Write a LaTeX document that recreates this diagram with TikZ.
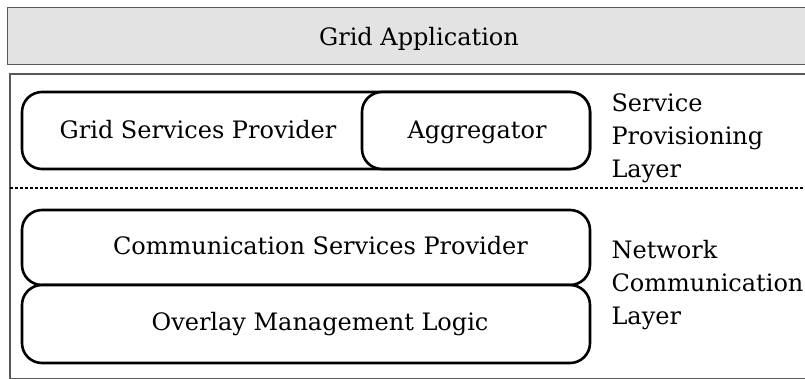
\documentclass[tikz,border=0pt]{standalone}
\usepackage{fontspec}
\setmainfont{DejaVu Serif}
\usepackage{tikz}
\usetikzlibrary{positioning}

\begin{document}
\begin{tikzpicture}[x=1pt, y=-1pt,
  every node/.style={font=\fontsize{24}{33}\selectfont},
  part/.style={draw=black, line width=2.6pt, rounded corners=20pt, fill=white, inner sep=0pt},
  frame/.style={draw=black!65, line width=1.4pt},
  label/.style={anchor=base},
  side/.style={anchor=north west, align=left}]
\useasboundingbox (0,0) rectangle (805,378);
\begin{scope}
\clip (0,0) rectangle (805,378);
% application on top
\node[frame, fill=black!11, minimum width=804, minimum height=57, anchor=north west] (app) at (7,7) {};
\node[label] (apptext) at (419,45) {Grid Application};
% middleware frame
\draw[frame] (10,74) rectangle (812,378.4);
\draw[line width=1.4pt, dash pattern=on 3pt off 2pt] (10,188) -- (805,188);
\end{scope}
% service provisioning layer
\node[part, minimum width=568, minimum height=77] (gsp) at (306,130.5) {};
\node[label] (gsptext) at (198,138.3) {Grid Services Provider};
\node[part, minimum width=228, minimum height=77] (agg) at (476,130.5) {};
\node[label] (aggtext) at (477,138.3) {Aggregator};
\node[side] (splayer) at (608,90.5) {Service\\Provisioning\\Layer};
% network communication layer
\node[part, minimum width=568, minimum height=75] (csp) at (306,247.5) {};
\node[label] (csptext) at (320.5,254.5) {Communication Services Provider};
\node[part, minimum width=568, minimum height=78] (oml) at (306,324) {};
\node[label] (omltext) at (320,330.5) {Overlay Management Logic};
\node[side] (nclayer) at (608,236.5) {Network\\Communication\\Layer};
\end{tikzpicture}
\end{document}
